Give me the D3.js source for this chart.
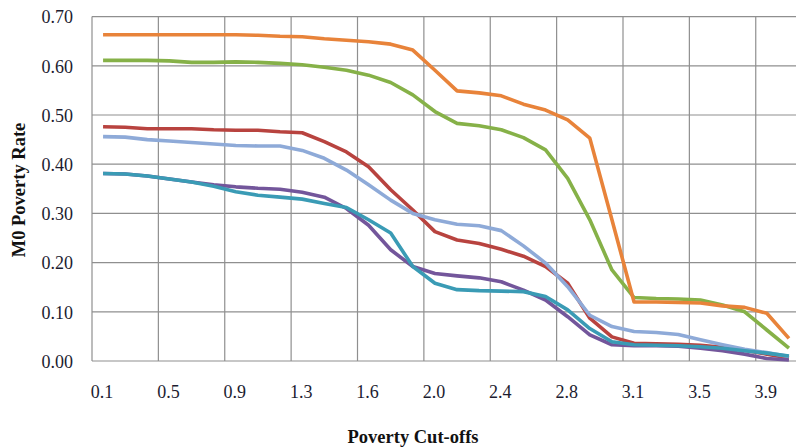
<!DOCTYPE html>
<html>
<head>
<meta charset="utf-8">
<script src="https://cdn.jsdelivr.net/npm/d3@7"></script>
<style>
  body { margin: 0; background: #fff; }
  svg text { font-family: "Liberation Serif", "Times New Roman", serif; }
</style>
</head>
<body>
<div id="chart"></div>
<script>
// poverty cut-offs (x categories), labels shown every third one
var cutoffs = [0.1, 0.2, 0.4, 0.5, 0.6, 0.8, 0.9, 1.0, 1.2, 1.3, 1.4, 1.5, 1.6, 1.8, 1.9, 2.0,
               2.2, 2.3, 2.4, 2.5, 2.7, 2.8, 2.9, 3.0, 3.1, 3.3, 3.4, 3.5, 3.7, 3.8, 3.9, 4.0];
var yTicks = [0, 0.1, 0.2, 0.3, 0.4, 0.5, 0.6, 0.7];

var red = [0.476, 0.475, 0.472, 0.472, 0.472, 0.470, 0.469, 0.469, 0.466, 0.464, 0.446, 0.425,
           0.395, 0.348, 0.307, 0.263, 0.246, 0.239, 0.227, 0.213, 0.192, 0.158, 0.087, 0.049,
           0.036, 0.035, 0.034, 0.032, 0.028, 0.022, 0.014, 0.006];
var purple = [0.381, 0.380, 0.376, 0.370, 0.364, 0.358, 0.354, 0.351, 0.349, 0.343, 0.333, 0.310,
              0.276, 0.226, 0.192, 0.178, 0.173, 0.169, 0.161, 0.144, 0.124, 0.090, 0.053, 0.033,
              0.031, 0.031, 0.030, 0.026, 0.021, 0.014, 0.005, 0.002];
var green = [0.611, 0.611, 0.611, 0.610, 0.607, 0.607, 0.608, 0.607, 0.605, 0.602, 0.597, 0.591,
             0.581, 0.566, 0.541, 0.507, 0.483, 0.478, 0.470, 0.454, 0.429, 0.371, 0.287, 0.185,
             0.129, 0.127, 0.126, 0.124, 0.114, 0.100, 0.063, 0.026];
var lightblue = [0.456, 0.455, 0.450, 0.447, 0.444, 0.441, 0.438, 0.437, 0.437, 0.428, 0.412, 0.388,
                 0.358, 0.327, 0.300, 0.287, 0.278, 0.275, 0.265, 0.234, 0.199, 0.151, 0.093, 0.070,
                 0.060, 0.058, 0.054, 0.043, 0.033, 0.024, 0.017, 0.009];
var teal = [0.381, 0.380, 0.376, 0.370, 0.364, 0.355, 0.344, 0.337, 0.333, 0.329, 0.320, 0.312,
            0.287, 0.260, 0.192, 0.158, 0.145, 0.143, 0.142, 0.141, 0.131, 0.104, 0.066, 0.039,
            0.033, 0.032, 0.031, 0.029, 0.026, 0.021, 0.016, 0.010];
var orange = [0.663, 0.663, 0.663, 0.663, 0.663, 0.663, 0.663, 0.662, 0.660, 0.659, 0.655, 0.652,
              0.649, 0.644, 0.632, 0.591, 0.549, 0.545, 0.539, 0.522, 0.510, 0.490, 0.453, 0.287,
              0.120, 0.120, 0.119, 0.118, 0.112, 0.109, 0.097, 0.046];

var series = [
	{ name: "red", color: "#b8433f", values: red },
	{ name: "purple", color: "#73569b", values: purple },
	{ name: "green", color: "#86b148", values: green },
	{ name: "lightblue", color: "#8eaad8", values: lightblue },
	{ name: "teal", color: "#3a9bb5", values: teal },
	{ name: "orange", color: "#e8833a", values: orange }
];

var width = 796, height = 448;
var margin = { top: 16.6, left: 92, bottom: 87, right: -4 };
var plotW = width - margin.left - margin.right;
var plotH = height - margin.top - margin.bottom;

var svg = d3.select("#chart")
	.append("svg")
	.attr("width", width)
	.attr("height", height);

var g = svg.append("g")
	.attr("transform", "translate(" + margin.left + "," + margin.top + ")");

var x = d3.scaleBand()
	.domain(d3.range(cutoffs.length))
	.range([0, plotW])
	.padding(0);
var y = d3.scaleLinear()
	.domain([0, 0.7])
	.range([plotH, 0]);

var labelIdx = d3.range(0, cutoffs.length, 3);

// horizontal gridlines
g.selectAll("line.hgrid")
	.data(yTicks)
	.enter().append("line")
	.attr("class", "hgrid")
	.attr("x1", 0).attr("x2", plotW)
	.attr("y1", function(d) { return y(d); })
	.attr("y2", function(d) { return y(d); })
	.attr("stroke", "#8f8f8f")
	.attr("stroke-width", 1.2);

// vertical gridlines at the left edge of every third category
g.selectAll("line.vgrid")
	.data(labelIdx)
	.enter().append("line")
	.attr("class", "vgrid")
	.attr("x1", function(d) { return x(d); })
	.attr("x2", function(d) { return x(d); })
	.attr("y1", 0).attr("y2", plotH)
	.attr("stroke", "#8f8f8f")
	.attr("stroke-width", 1.2);

// y tick labels
g.selectAll("text.ytick")
	.data(yTicks)
	.enter().append("text")
	.attr("class", "ytick")
	.attr("x", -19)
	.attr("y", function(d) { return y(d); })
	.attr("dy", "0.38em")
	.attr("text-anchor", "end")
	.attr("font-size", "18px")
	.attr("fill", "#1c1c30")
	.text(function(d) { return d3.format(".2f")(d); });

// x tick labels
g.selectAll("text.xtick")
	.data(labelIdx)
	.enter().append("text")
	.attr("class", "xtick")
	.attr("x", function(d) { return x(d) + x.bandwidth() / 2 - 1; })
	.attr("y", plotH + 37)
	.attr("text-anchor", "middle")
	.attr("font-size", "18px")
	.attr("fill", "#1c1c30")
	.text(function(d) { return cutoffs[d].toFixed(1); });

var line = d3.line()
	.x(function(d, i) { return x(i) + x.bandwidth() / 2; })
	.y(function(d) { return y(d); });

g.selectAll("path.series")
	.data(series)
	.enter().append("path")
	.attr("class", "series")
	.attr("d", function(d) { return line(d.values); })
	.attr("fill", "none")
	.attr("stroke", function(d) { return d.color; })
	.attr("stroke-width", 3.6)
	.attr("stroke-linejoin", "round");

// axis titles
svg.append("text")
	.attr("x", 413)
	.attr("y", 443)
	.attr("text-anchor", "middle")
	.attr("font-size", "18.5px")
	.attr("font-weight", "bold")
	.attr("fill", "#111")
	.text("Poverty Cut-offs");

svg.append("text")
	.attr("transform", "translate(25,190) rotate(-90)")
	.attr("text-anchor", "middle")
	.attr("font-size", "18.5px")
	.attr("font-weight", "bold")
	.attr("fill", "#111")
	.text("M0 Poverty Rate");
</script>
</body>
</html>
